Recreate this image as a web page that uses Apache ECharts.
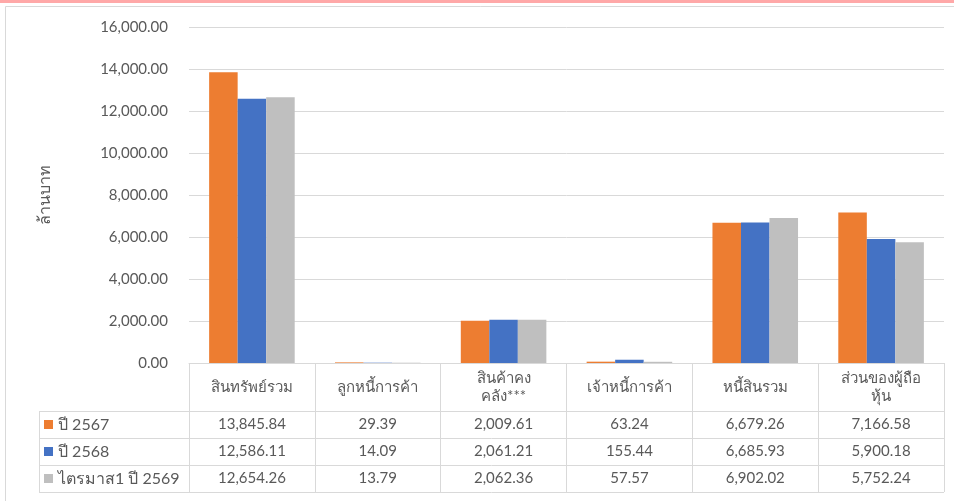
<!DOCTYPE html>
<html><head><meta charset="utf-8">
<script src="https://cdn.jsdelivr.net/npm/echarts@6/dist/echarts.min.js"></script>
<style>html,body{margin:0;padding:0;background:#fff}#c{width:954px;height:501px}</style>
</head><body><div id="c"></div>
<script>
const categories = ['สินทรัพย์รวม', 'ลูกหนี้การค้า', 'สินค้าคง\nคลัง***', 'เจ้าหนี้การค้า', 'หนี้สินรวม', 'ส่วนของผู้ถือ\nหุ้น'];
const seriesNames = ['ปี 2567', 'ปี 2568', 'ไตรมาส1 ปี 2569'];
const y2567 = [13845.84, 29.39, 2009.61, 63.24, 6679.26, 7166.58];
const y2568 = [12586.11, 14.09, 2061.21, 155.44, 6685.93, 5900.18];
const q1y2569 = [12654.26, 13.79, 2062.36, 57.57, 6902.02, 5752.24];
const colors = ['#ED7D31', '#4472C4', '#BFBFBF'];
const rows = [y2567, y2568, q1y2569];

const FONT = 'Lato, "Noto Sans", "DejaVu Sans", sans-serif';
const TXT = '#595959';
const LINE = '#d9d9d9';
const fmt = v => v.toLocaleString('en-US', {minimumFractionDigits: 2, maximumFractionDigits: 2});

const chart = echarts.init(document.getElementById('c'));
const gridL = 189, gridR = 10, gridT = 27, gridB = 138;
const axisY = 501 - gridB;
const rowH = 27, headH = 48;
const tableLeft = 39, tableRight = 954 - gridR;

const xAxes = [{
  type: 'category', data: categories, gridIndex: 0, position: 'bottom',
  axisLine: {show: true, lineStyle: {color: LINE, width: 1}},
  axisTick: {show: true, length: headH + 3 * rowH, lineStyle: {color: LINE, width: 1}},
  axisLabel: {interval: 0, margin: headH / 2, verticalAlign: 'middle', lineHeight: 18,
    fontSize: 15, color: TXT, fontFamily: FONT}
}];
rows.forEach((r, k) => {
  xAxes.push({
    type: 'category', data: categories, gridIndex: 0, position: 'bottom',
    axisLine: {show: false}, axisTick: {show: false}, splitLine: {show: false},
    axisLabel: {interval: 0, margin: headH + rowH * k + rowH / 2, verticalAlign: 'middle',
      fontSize: 15, color: TXT, fontFamily: FONT,
      formatter: (v, i) => fmt(r[i])}
  });
});

const graphics = [
  {type: 'rect', shape: {x: 0, y: 0, width: 954, height: 3}, style: {fill: '#FFA8A8'}, silent: true},
  {type: 'rect', shape: {x: 5.5, y: 6.5, width: 960, height: 520}, style: {fill: 'none', stroke: LINE, lineWidth: 1}, silent: true},
  {type: 'line', shape: {x1: tableLeft + 0.5, y1: axisY + headH, x2: tableLeft + 0.5, y2: axisY + headH + 3 * rowH}, style: {stroke: LINE, lineWidth: 1}, silent: true}
];
for (let k = 0; k <= 3; k++) {
  const y = axisY + headH + k * rowH + 0.5;
  graphics.push({type: 'line', shape: {x1: tableLeft, y1: y, x2: tableRight, y2: y}, style: {stroke: LINE, lineWidth: 1}, silent: true});
}

chart.setOption({
  animation: false,
  color: colors,
  grid: {left: gridL, right: gridR, top: gridT, bottom: gridB, containLabel: false},
  legend: {
    orient: 'vertical', left: 44, top: axisY + headH + 3.5, padding: 0,
    itemWidth: 9, itemHeight: 9, itemGap: 7, icon: 'rect',
    textStyle: {fontSize: 16, lineHeight: 20, color: TXT, fontFamily: FONT},
    data: seriesNames
  },
  xAxis: xAxes,
  yAxis: {
    type: 'value', min: 0, max: 16000, interval: 2000,
    name: 'ล้านบาท', nameLocation: 'middle', nameGap: 136, nameRotate: 90,
    nameTextStyle: {fontSize: 16, color: TXT, fontFamily: FONT},
    axisLine: {show: false}, axisTick: {show: false},
    splitLine: {lineStyle: {color: LINE, width: 1}},
    axisLabel: {margin: 21, fontSize: 15, color: TXT, fontFamily: FONT, formatter: v => fmt(v)}
  },
  series: rows.map((r, k) => ({
    name: seriesNames[k], type: 'bar', data: r, xAxisIndex: 0,
    barGap: '0%', barCategoryGap: '32%',
    itemStyle: {color: colors[k]}
  })),
  graphic: graphics
});
</script></body></html>
